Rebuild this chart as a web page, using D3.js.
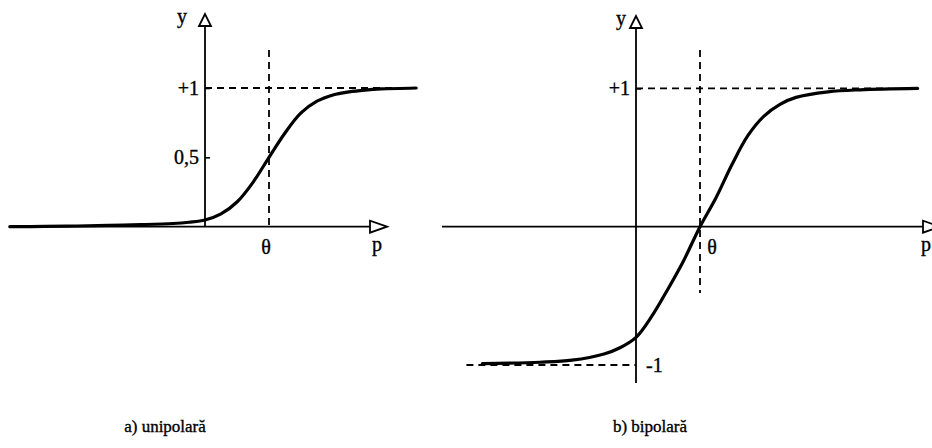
<!DOCTYPE html>
<html><head><meta charset="utf-8">
<script src="https://cdn.jsdelivr.net/npm/d3@7"></script>
<style>
html,body{margin:0;padding:0;background:#fff;}
svg{display:block;font-family:"Liberation Serif","Times New Roman",serif;}
svg text{stroke:#000;stroke-width:0.35px;}
</style></head><body>
<svg id="chart" width="932" height="448"></svg>
<script>
// Unipolar activation: net input p (threshold θ = 2) -> output y in [0, 1]
const uniP = [-6.1, -5, -4, -3, -2, -1, -0.5, 0, 0.5, 1, 1.5, 2, 2.5, 3, 3.5, 4, 4.5, 5, 5.5, 6.6];
const uniY = [0.0, 0.002, 0.005, 0.01, 0.015, 0.023, 0.032, 0.048, 0.092, 0.178, 0.32, 0.5, 0.676, 0.82, 0.905, 0.95, 0.972, 0.985, 0.993, 1.0];

// Bipolar activation: net input p (threshold θ = 2) -> output y in [-1, 1]
const bipP = [-4.8, -3, -2, -1, -0.5, 0, 0.5, 1, 1.5, 2, 2.5, 3, 3.5, 4, 4.5, 5, 6, 7, 8.8];
const bipY = [-0.99, -0.98, -0.965, -0.92, -0.875, -0.8, -0.645, -0.45, -0.24, 0.0, 0.21, 0.45, 0.66, 0.80, 0.885, 0.935, 0.975, 0.99, 1.0];

const theta = 2;
const uniTicks = [0.5, 1];
const uniTickLabels = ["0,5", "+1"];
const bipTicksLeft = [1];
const bipTickLabelsLeft = ["+1"];
const bipTicksRight = [-1];
const bipTickLabelsRight = ["-1"];
const captions = ["a) unipolară", "b) bipolară"];

const svg = d3.select("#chart");
const FS = 20;

function upArrow(g, x, yTip) {
  g.append("path")
    .attr("d", `M${x},${yTip} L${x - 6},${yTip + 12} L${x + 6},${yTip + 12} Z`)
    .attr("fill", "#fff").attr("stroke", "#000").attr("stroke-width", 1.8)
    .attr("stroke-linejoin", "miter");
}
function rightArrow(g, xTip, y) {
  g.append("path")
    .attr("d", `M${xTip},${y} L${xTip - 17},${y - 6} L${xTip - 17},${y + 6} Z`)
    .attr("fill", "#fff").attr("stroke", "#000").attr("stroke-width", 1.8);
}
function dashed(g, x1, y1, x2, y2) {
  g.append("line")
    .attr("x1", x1).attr("y1", y1).attr("x2", x2).attr("y2", y2)
    .attr("stroke", "#000").attr("stroke-width", 1.8)
    .attr("stroke-dasharray", "7,5");
}
function txt(g, x, y, s, anchor) {
  g.append("text").attr("x", x).attr("y", y)
    .attr("text-anchor", anchor || "start")
    .attr("font-size", FS).attr("fill", "#000").text(s);
}

// ---------- panel a) unipolar ----------
{
  const g = svg.append("g");
  const x = d3.scaleLinear().domain([0, theta]).range([205, 269]);
  const y = d3.scaleLinear().domain([0, 1]).range([226.7, 88]);

  // horizontal p axis
  g.append("line").attr("x1", x(-6.1)).attr("x2", 371).attr("y1", y(0)).attr("y2", y(0))
    .attr("stroke", "#000").attr("stroke-width", 1.7);
  rightArrow(g, 387, y(0));
  // vertical y axis
  g.append("line").attr("x1", x(0)).attr("x2", x(0)).attr("y1", 26).attr("y2", y(0))
    .attr("stroke", "#000").attr("stroke-width", 1.8);
  upArrow(g, x(0), 14);

  // ticks and labels on the y axis
  const ax = d3.axisLeft(y).tickValues(uniTicks)
    .tickFormat((d, i) => uniTickLabels[i])
    .tickSizeInner(-5).tickSizeOuter(0).tickPadding(6);
  const axG = g.append("g").attr("transform", `translate(${x(0)},0)`).call(ax);
  axG.select(".domain").remove();
  axG.selectAll(".tick line").attr("stroke", "#000").attr("stroke-width", 1.6);
  axG.selectAll(".tick text").attr("font-size", FS).attr("font-family", "Liberation Serif").attr("fill", "#000");

  // guide lines
  dashed(g, x(0), y(1), x(6.6), y(1));
  dashed(g, x(theta), 50, x(theta), y(0));

  // curve
  const line = d3.line().x(d => x(d[0])).y(d => y(d[1])).curve(d3.curveCatmullRom.alpha(0.5));
  g.append("path").datum(d3.zip(uniP, uniY)).attr("d", line)
    .attr("fill", "none").attr("stroke", "#000").attr("stroke-width", 3.2)
    .attr("stroke-linecap", "round");

  txt(g, 182, 23, "y", "middle");
  txt(g, x(theta) - 3, 254, "θ", "middle");
  txt(g, 377, 251, "p", "middle");
  g.append("text").attr("x", 165).attr("y", 432).attr("text-anchor", "middle")
    .attr("font-size", 17).text(captions[0]);
}

// ---------- panel b) bipolar ----------
{
  const g = svg.append("g");
  const x = d3.scaleLinear().domain([0, theta]).range([636, 700]);
  const y = d3.scaleLinear().domain([-1, 1]).range([365, 88.4]);

  g.append("line").attr("x1", 442).attr("x2", 924).attr("y1", y(0)).attr("y2", y(0))
    .attr("stroke", "#000").attr("stroke-width", 1.7);
  rightArrow(g, 940, y(0));
  g.append("line").attr("x1", x(0)).attr("x2", x(0)).attr("y1", 28).attr("y2", 383)
    .attr("stroke", "#000").attr("stroke-width", 1.8);
  upArrow(g, x(0), 16);

  const axL = d3.axisLeft(y).tickValues(bipTicksLeft)
    .tickFormat((d, i) => bipTickLabelsLeft[i])
    .tickSizeInner(-5).tickSizeOuter(0).tickPadding(6);
  const gL = g.append("g").attr("transform", `translate(${x(0)},0)`).call(axL);
  gL.select(".domain").remove();
  gL.selectAll(".tick line").attr("stroke", "#000").attr("stroke-width", 1.6);
  gL.selectAll(".tick text").attr("font-size", FS).attr("font-family", "Liberation Serif").attr("fill", "#000");

  const axR = d3.axisRight(y).tickValues(bipTicksRight)
    .tickFormat((d, i) => bipTickLabelsRight[i])
    .tickSizeInner(0).tickSizeOuter(0).tickPadding(10);
  const gR = g.append("g").attr("transform", `translate(${x(0)},0)`).call(axR);
  gR.select(".domain").remove();
  gR.selectAll(".tick text").attr("font-size", FS).attr("font-family", "Liberation Serif").attr("fill", "#000");

  dashed(g, x(0), y(1), x(7.9), y(1));
  dashed(g, x(-5.3), y(-1), x(0), y(-1));
  dashed(g, x(theta), 50, x(theta), 293);

  const line = d3.line().x(d => x(d[0])).y(d => y(d[1])).curve(d3.curveCatmullRom.alpha(0.5));
  g.append("path").datum(d3.zip(bipP, bipY)).attr("d", line)
    .attr("fill", "none").attr("stroke", "#000").attr("stroke-width", 3.2)
    .attr("stroke-linecap", "round");

  txt(g, 621, 25, "y", "middle");
  txt(g, 712, 254, "θ", "middle");
  txt(g, 931, 251, "p", "end");
  g.append("text").attr("x", 650).attr("y", 432).attr("text-anchor", "middle")
    .attr("font-size", 17).text(captions[1]);
}
</script>
</body></html>
